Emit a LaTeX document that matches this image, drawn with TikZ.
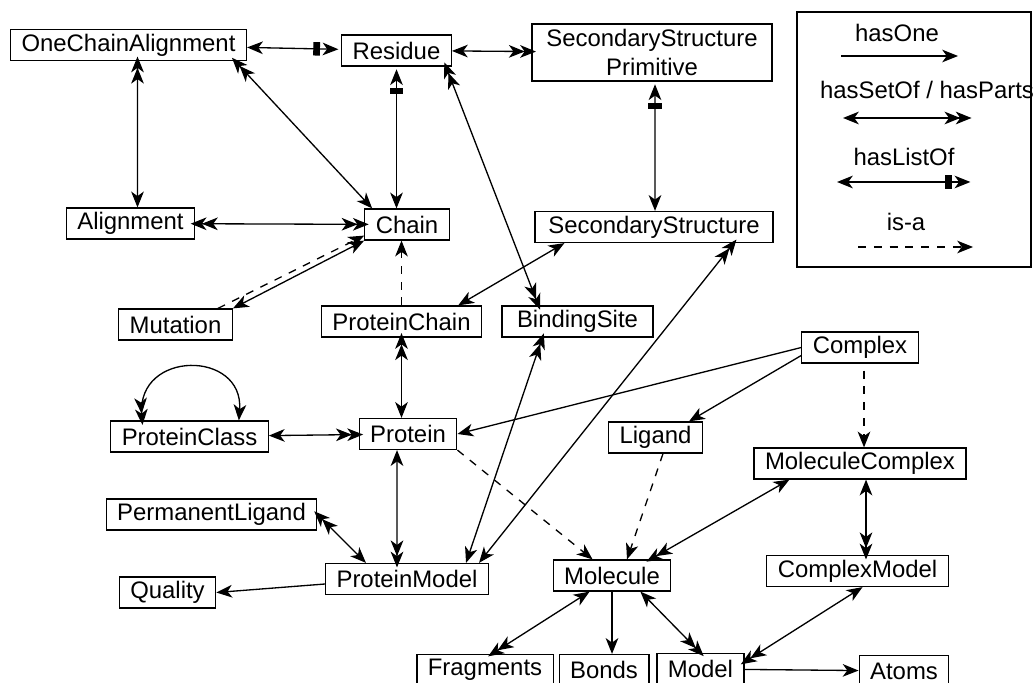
\documentclass[tikz,border=0pt]{standalone}
\usepackage{fontspec}
\setmainfont{Liberation Sans}
\usepackage{tikz}
\usetikzlibrary{arrows.meta}
\tikzset{
    box/.style={draw, line width=0.7pt, inner xsep=0.22cm, inner ysep=0pt, minimum height=0.62cm},
    rel/.style={line width=0.75pt},
    hasone/.style={rel, -{Stealth[length=9pt,width=7.2pt,inset=2.6pt]}},
    both/.style={rel, {Stealth[length=9pt,width=7.2pt,inset=2.6pt]}-{Stealth[length=9pt,width=7.2pt,inset=2.6pt]}},
    setof/.style={rel, {Stealth[length=9pt,width=7.2pt,inset=2.6pt]}-{Stealth[length=9pt,width=7.2pt,inset=2.6pt,sep=-2.6pt]Stealth[length=9pt,width=7.2pt,inset=2.6pt,sep=-2.6pt]}},
    dbl/.style={rel, {Stealth[length=9pt,width=7.2pt,inset=2.6pt,sep=-2.6pt]Stealth[length=9pt,width=7.2pt,inset=2.6pt,sep=-2.6pt]}-{Stealth[length=9pt,width=7.2pt,inset=2.6pt,sep=-2.6pt]Stealth[length=9pt,width=7.2pt,inset=2.6pt,sep=-2.6pt]}},
    listof/.style={rel, {Stealth[length=9pt,width=7.2pt,inset=2.6pt]}-{Rectangle[length=3.8pt,width=7.6pt,sep=1.5pt]Stealth[length=9pt,width=7.2pt,inset=2.6pt,sep=1.5pt]}},
    isa/.style={rel, dash pattern=on 4.5pt off 4.5pt, -{Stealth[length=9pt,width=7.2pt,inset=2.6pt]}},
}

\begin{document}
\begin{tikzpicture}[font=\fontsize{13.6}{16.5}\selectfont]
    \useasboundingbox (0,0) rectangle (20.7,-13.66);

    \node[box] at (2.57,-0.90) (oca) {OneChainAlignment};
    \node[box] at (7.93,-1.01) (res) {Residue};
    \node[box, align=center, minimum width=4.8cm, minimum height=1.14cm] at (13.04,-1.05) (ssp) {SecondaryStructure\\Primitive};
    \node[box] at (2.61,-4.47) (ali) {Alignment};
    \node[box] at (8.14,-4.49) (chain) {Chain};
    \node[box, minimum width=4.76cm] at (13.08,-4.54) (ss) {SecondaryStructure};
    \node[box] at (3.51,-6.49) (mut) {Mutation};
    \node[box] at (8.03,-6.43) (pchain) {ProteinChain};
    \node[box, minimum width=3.02cm] at (11.55,-6.43) (bsite) {BindingSite};
    \node[box] at (17.20,-6.95) (cplx) {Complex};
    \node[box] at (3.79,-8.73) (pclass) {ProteinClass};
    \node[box] at (8.16,-8.68) (prot) {Protein};
    \node[box] at (13.11,-8.75) (lig) {Ligand};
    \node[box] at (17.20,-9.27) (mcplx) {MoleculeComplex};
    \node[box] at (4.23,-10.29) (plig) {PermanentLigand};
    \node[box] at (8.14,-11.58) (pmodel) {ProteinModel};
    \node[box] at (3.35,-11.85) (qual) {Quality};
    \node[box] at (12.24,-11.51) (mol) {Molecule};
    \node[box] at (17.15,-11.42) (cmodel) {ComplexModel};
    \node[box] at (9.70,-13.40) (frag) {Fragments};
    \node[box] at (12.08,-13.40) (bonds) {Bonds};
    \node[box] at (14.01,-13.38) (model) {Model};
    \node[box] at (18.08,-13.42) (atoms) {Atoms};

    \node[draw, line width=0.7pt, minimum width=4.68cm, minimum height=5.1cm] at (18.28,-2.79) (legend) {};
    \node at (17.94,-0.66) (lone) {hasOne};
    \node at (18.54,-1.80) (lset) {hasSetOf / hasParts};
    \node at (18.08,-3.14) (llist) {hasListOf};
    \node at (18.12,-4.44) (lisa) {is-a};
    \coordinate (one1) at (16.82,-1.12);
    \coordinate (one2) at (19.16,-1.12);
    \coordinate (set1) at (16.86,-2.36);
    \coordinate (set2) at (19.34,-2.36);
    \coordinate (list1) at (16.74,-3.64);
    \coordinate (list2) at (19.46,-3.64);
    \coordinate (isa1) at (17.16,-4.94);
    \coordinate (isa2) at (19.46,-4.94);

    \draw[hasone] (one1) -- (one2);
    \draw[setof] (set1) -- (set2);
    \draw[listof] (list1) -- (list2);
    \draw[isa] (isa1) -- (isa2);

    \draw[listof] (oca) -- (res);
    \draw[setof] (res) -- (ssp);
    \draw[listof] (res.south |- chain.north) -- (res.south);
    \draw[listof] ([xshift=0.02cm]ss.north) -- ([xshift=0.06cm]ssp.south);
    \draw[setof] ([xshift=0.14cm]ali.north) -- ([xshift=0.18cm]oca.south);
    \draw[setof] ([xshift=0.16cm]chain.north west) -- ([xshift=-0.24cm]oca.south east);
    \draw[dbl] (ali) -- (chain);
    \draw[both] (mut.north east) -- (chain.south west);
    \draw[isa] ([xshift=-0.3cm]mut.north east) -- ([yshift=0.1cm]chain.south west);
    \draw[isa] (pchain.north) -- (pchain.north |- chain.south);
    \draw[both] ([xshift=-0.48cm]pchain.north east) -- ([xshift=0.6cm]ss.south west);
    \draw[dbl] ([xshift=-0.12cm]res.south east) -- ([xshift=0.74cm]bsite.north west);
    \draw[setof] ([xshift=-0.2cm]pmodel.north east) -- ([xshift=-0.8cm]ss.south east);
    \draw[setof] ([xshift=-0.46cm]pmodel.north east) -- ([xshift=0.82cm]bsite.south west);
    \draw[setof] (pchain.south |- prot.north) -- (pchain.south);
    \draw[setof] ([xshift=-0.6cm]pclass.north east) .. controls +(0.1,1.41) and +(-0.1,1.41) .. ([xshift=0.64cm]pclass.north west);
    \draw[setof] (pclass) -- (prot);
    \draw[hasone] (cplx.west) -- (prot.east);
    \draw[hasone] ([yshift=-0.16cm]cplx.west) -- ([xshift=-0.28cm]lig.north east);
    \draw[isa] ([xshift=0.08cm, yshift=-0.14cm]cplx.south) -- ([xshift=0.08cm]mcplx.north);
    \draw[isa] (prot.south east) -- ([xshift=0.8cm]mol.north west);
    \draw[isa] ([xshift=0.15cm]lig.south) -- ([xshift=0.3cm]mol.north);
    \draw[setof] ([xshift=0.72cm]mcplx.south west) -- ([xshift=-0.42cm]mol.north east);
    \draw[setof] ([xshift=0.12cm]mcplx.south) -- ([xshift=0.17cm]cmodel.north);
    \draw[setof] ([xshift=-0.22cm]prot.south) -- ([xshift=-0.2cm]pmodel.north);
    \draw[setof] ([xshift=0.82cm]pmodel.north west) -- (plig.east);
    \draw[hasone] ([yshift=-0.1cm]pmodel.west) -- (qual.east);
    \draw[setof] ([xshift=0.74cm]mol.south west) -- ([xshift=0.14cm]frag.north);
    \draw[hasone] (mol.south) -- (mol.south |- bonds.north);
    \draw[setof] ([xshift=-0.62cm]mol.south east) -- (model.north);
    \draw[setof] ([xshift=0.1cm]cmodel.south) -- ([yshift=-0.18cm]model.north east);
    \draw[hasone] (model) -- (atoms);
\end{tikzpicture}
\end{document}
